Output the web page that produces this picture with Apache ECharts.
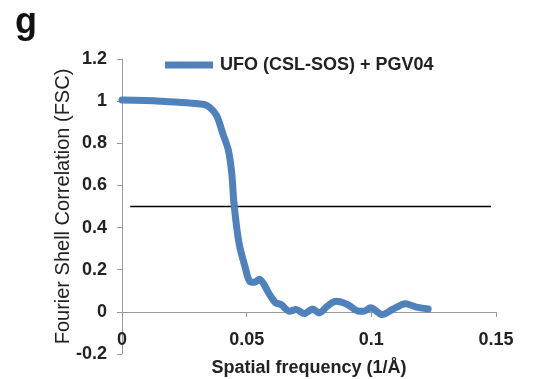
<!DOCTYPE html>
<html><head><meta charset="utf-8">
<script src="https://cdn.jsdelivr.net/npm/echarts@6/dist/echarts.min.js"></script>
<style>html,body{margin:0;padding:0;background:#fff}#c{width:551px;height:379px}</style>
</head><body><div id="c"></div>
<script>
const freq = [0, 0.0153, 0.0326, 0.0352, 0.038, 0.0406, 0.0426, 0.044, 0.0448, 0.0459, 0.0472, 0.0492, 0.0512, 0.0532, 0.055, 0.0566, 0.0592, 0.0616, 0.0638, 0.0672, 0.0698, 0.0731, 0.0765, 0.079, 0.0824, 0.0858, 0.0904, 0.095, 0.097, 0.0997, 0.1044, 0.1084, 0.1137, 0.1177, 0.1228];
const fsc = [1.005, 1.0, 0.985, 0.97, 0.93, 0.84, 0.77, 0.66, 0.53, 0.41, 0.31, 0.22, 0.145, 0.14, 0.155, 0.137, 0.082, 0.043, 0.035, 0.003, 0.011, -0.008, 0.014, -0.005, 0.027, 0.05, 0.035, 0.003, 0.003, 0.019, -0.013, 0.011, 0.039, 0.024, 0.014];
const thresholdX = [0.0033, 0.148];
const thresholdY = [0.5, 0.5];
const xTicks = {min: 0, max: 0.15, interval: 0.05};
const yTicks = {min: -0.2, max: 1.2, interval: 0.2};
const seriesName = 'UFO (CSL-SOS) + PGV04';

const chart = echarts.init(document.getElementById('c'));
const font = 'Liberation Sans, Arial, sans-serif';
chart.setOption({
  animation: false,
  title: {text: 'g', left: 10, top: 0, textStyle: {fontFamily: font, fontSize: 36, fontWeight: 'bold', color: '#111'}},
  grid: {left: 122, right: 55, top: 59, bottom: 25, containLabel: false, outerBoundsMode: 'none'},
  legend: {
    top: 51, left: 160, itemWidth: 48, itemHeight: 7, icon: 'rect',
    data: [seriesName],
    textStyle: {fontFamily: font, fontSize: 18, fontWeight: 'bold', color: '#222', padding: [0,0,0,2]}
  },
  xAxis: {
    type: 'value', min: xTicks.min, max: xTicks.max, interval: xTicks.interval,
    offset: -42,
    name: 'Spatial frequency (1/Å)', nameLocation: 'middle', nameGap: 47, nameMoveOverlap: false,
    nameTextStyle: {fontFamily: font, fontSize: 18, fontWeight: 'bold', color: '#222'},
    axisLine: {onZero: false, lineStyle: {color: '#999', width: 1}},
    axisTick: {show: true, inside: false, length: 5, lineStyle: {color: '#999'}},
    axisLabel: {fontFamily: font, fontSize: 18, fontWeight: 'bold', color: '#222', margin: 19,
      formatter: v => String(+v.toFixed(2))},
    splitLine: {show: false}
  },
  yAxis: {
    type: 'value', min: yTicks.min, max: yTicks.max, interval: yTicks.interval,
    name: 'Fourier Shell Correlation (FSC)', nameLocation: 'middle', nameGap: 49, nameMoveOverlap: false,
    nameTextStyle: {fontFamily: font, fontSize: 20, color: '#222'},
    axisLine: {show: true, lineStyle: {color: '#999', width: 1}},
    axisTick: {show: true, inside: false, length: 5, lineStyle: {color: '#999'}},
    axisLabel: {fontFamily: font, fontSize: 18, fontWeight: 'bold', color: '#222', margin: 15,
      formatter: v => String(+v.toFixed(1))},
    splitLine: {show: false}
  },
  series: [
    {name: seriesName, type: 'line', smooth: 0.3, showSymbol: false, symbol: 'none',
     data: freq.map((x, i) => [x, fsc[i]]),
     lineStyle: {color: '#4f81bd', width: 7, cap: 'round', join: 'round'},
     itemStyle: {color: '#4f81bd'}},
    {name: 'threshold', type: 'line', showSymbol: false, symbol: 'none',
     data: thresholdX.map((x, i) => [x, thresholdY[i]]),
     lineStyle: {color: '#000', width: 1.5}, z: 1}
  ]
});
</script></body></html>
